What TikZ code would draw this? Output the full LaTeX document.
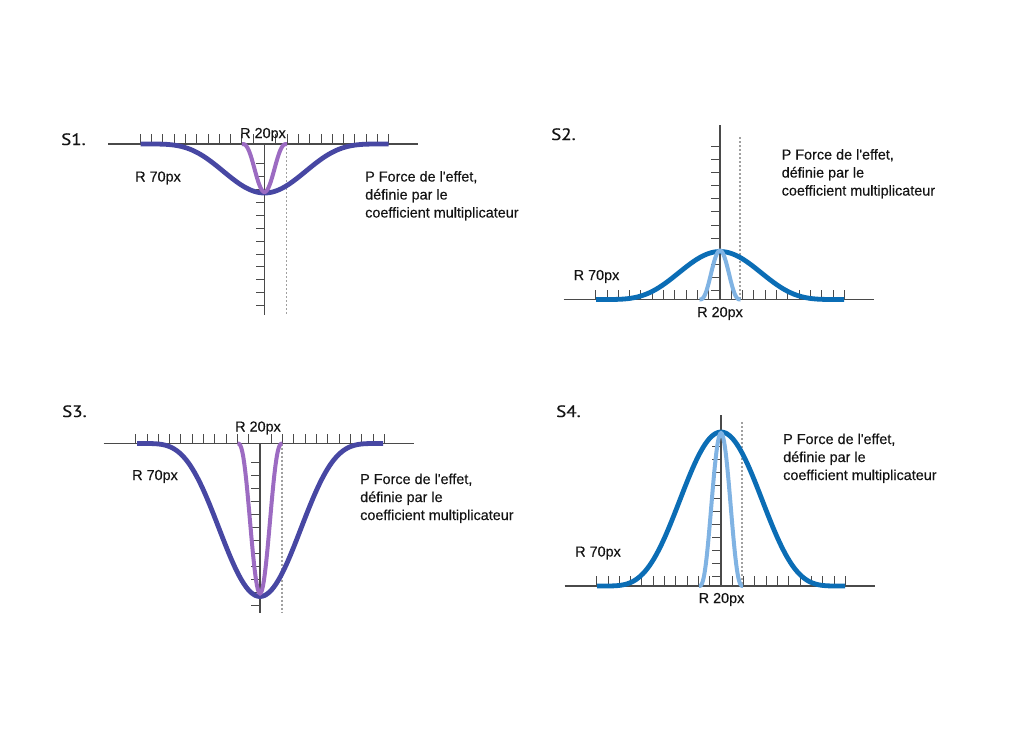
\documentclass[tikz,border=0pt]{standalone}
\usepackage{fontspec}
\setmainfont{Liberation Sans}[Ligatures=TeXOff, FakeBold=0.3]
\newfontfamily\labfont{PT Sans}[FakeStretch=1.15, FakeBold=0.4]
\definecolor{indigo}{HTML}{4747A3}
\definecolor{violet}{HTML}{9C6BC2}
\definecolor{deepblue}{HTML}{0B6DB5}
\definecolor{paleblue}{HTML}{80B3E3}
\definecolor{axisgray}{HTML}{4A4A4A}
\definecolor{guidegray}{HTML}{A0A0A0}
\definecolor{txt}{HTML}{141414}
\tikzset{
  axisline/.style={draw=axisgray, line width=1.2pt},
  tickline/.style={draw=axisgray, line width=0.9pt},
  guide/.style={draw=guidegray, line width=1.1pt, dash pattern=on 2pt off 2pt},
  widecurve/.style={line width=4.8pt},
  narrowcurve/.style={line width=4pt},
  lbl/.style={inner sep=0pt, anchor=base west, font=\fontsize{14.4}{18}\selectfont, text=txt},
  slbl/.style={inner sep=0pt, anchor=base west, font=\labfont\fontsize{16.5}{18}\selectfont, text=txt}
}
\begin{document}
\begin{tikzpicture}[x=1pt,y=-1pt]
\useasboundingbox[fill=white] (0,0) rectangle (1024,736);

% ================= S1 =================
\def\cx{264.5}\def\cy{144}
\draw[axisline] (\cx-156.5,\cy) -- (\cx+153.5,\cy);
\draw[axisline] (\cx,\cy) -- (\cx,315);
\foreach \k in {1,...,11}{
  \draw[tickline] (\cx+11.3*\k,\cy) -- ++(0,-10);
  \draw[tickline] (\cx-11.3*\k,\cy) -- ++(0,-10);}
\foreach \k in {0,...,11}{
  \draw[tickline] (\cx,\cy+19.3+12.95*\k) -- ++(-9,0);}
\draw[guide] (\cx+22,\cy) -- (\cx+22,315);
\draw[widecurve, draw=indigo] plot[domain=-124:124, samples=125, smooth]
  ({\cx+\x}, {\cy+49*(max(0,1-(\x/124)^2))^5});
\draw[narrowcurve, draw=violet] plot[domain=-22.5:22.5, samples=61, smooth]
  ({\cx+\x}, {\cy+48*(max(0,1-(\x/22.5)^2))^3});
\node[slbl] (s1) at (61,145) {S1.};
\node[lbl] (s1r20) at (240,138) {R 20px};
\node[lbl] (s1r70) at (135,181.5) {R 70px};
\node[lbl] (s1pa) at (365,181.5) {P Force de l'effet,};
\node[lbl] (s1pb) at (365,199.5) {définie par le};
\node[lbl] (s1pc) at (365,217.5) {coefficient multiplicateur};

% ================= S2 =================
\def\cx{720}\def\cy{299.5}
\draw[axisline] (\cx-156.5,\cy) -- (\cx+153.5,\cy);
\draw[axisline] (\cx,125) -- (\cx,\cy);
\foreach \k in {1,...,11}{
  \draw[tickline] (\cx+11.3*\k,\cy) -- ++(0,-10);
  \draw[tickline] (\cx-11.3*\k,\cy) -- ++(0,-10);}
\foreach \k in {0,...,11}{
  \draw[tickline] (\cx,\cy-9.3-13.05*\k) -- ++(-9,0);}
\draw[guide] (\cx+20,137) -- (\cx+20,\cy);
\draw[widecurve, draw=deepblue] plot[domain=-124:124, samples=125, smooth]
  ({\cx+\x}, {\cy-48*(max(0,1-(\x/124)^2))^5});
\draw[narrowcurve, draw=paleblue] plot[domain=-20.5:20.5, samples=61, smooth]
  ({\cx+\x}, {\cy-49*(max(0,1-(\x/20.5)^2))^3});
\node[slbl] (s2) at (551,140) {S2.};
\node[lbl] (s2r70) at (573.5,280) {R 70px};
\node[lbl] (s2r20) at (697,317) {R 20px};
\node[lbl] (s2pa) at (781.5,159.5) {P Force de l'effet,};
\node[lbl] (s2pb) at (781.5,177.5) {définie par le};
\node[lbl] (s2pc) at (781.5,195.5) {coefficient multiplicateur};

% ================= S3 =================
\def\cx{260}\def\cy{443.5}
\draw[axisline] (\cx-156.5,\cy) -- (\cx+153.5,\cy);
\draw[axisline] (\cx,\cy) -- (\cx,613);
\foreach \k in {1,...,11}{
  \draw[tickline] (\cx+11.3*\k,\cy) -- ++(0,-10);
  \draw[tickline] (\cx-11.3*\k,\cy) -- ++(0,-10);}
\foreach \k in {0,...,11}{
  \draw[tickline] (\cx,\cy+19.3+12.95*\k) -- ++(-9,0);}
\draw[guide] (\cx+22,\cy) -- (\cx+22,612);
\draw[widecurve, draw=indigo] plot[domain=-123:123, samples=125, smooth]
  ({\cx+\x}, {\cy+153*(max(0,1-(\x/123)^2))^5});
\draw[narrowcurve, draw=violet] plot[domain=-22.5:22.5, samples=61, smooth]
  ({\cx+\x}, {\cy+150*(max(0,1-(\x/22.5)^2))^3});
\node[slbl] (s3) at (62,417) {S3.};
\node[lbl] (s3r20) at (235,431.5) {R 20px};
\node[lbl] (s3r70) at (132,480) {R 70px};
\node[lbl] (s3pa) at (360,484) {P Force de l'effet,};
\node[lbl] (s3pb) at (360,502) {définie par le};
\node[lbl] (s3pc) at (360,520) {coefficient multiplicateur};

% ================= S4 =================
\def\cx{721}\def\cy{586}
\draw[axisline] (\cx-156.5,\cy) -- (\cx+153.5,\cy);
\draw[axisline] (\cx,415) -- (\cx,\cy);
\foreach \k in {1,...,11}{
  \draw[tickline] (\cx+11.3*\k,\cy) -- ++(0,-10);
  \draw[tickline] (\cx-11.3*\k,\cy) -- ++(0,-10);}
\foreach \k in {0,...,11}{
  \draw[tickline] (\cx,\cy-9.3-13.05*\k) -- ++(-9,0);}
\draw[guide] (\cx+21,422) -- (\cx+21,\cy);
\draw[widecurve, draw=deepblue] plot[domain=-124:124, samples=125, smooth]
  ({\cx+\x}, {\cy-154*(max(0,1-(\x/124)^2))^5});
\draw[narrowcurve, draw=paleblue] plot[domain=-22:22, samples=61, smooth]
  ({\cx+\x}, {\cy-153*(max(0,1-(\x/22)^2))^3});
\node[slbl] (s4) at (556,417) {S4.};
\node[lbl] (s4r70) at (575,556.5) {R 70px};
\node[lbl] (s4r20) at (698.5,603) {R 20px};
\node[lbl] (s4pa) at (783,444) {P Force de l'effet,};
\node[lbl] (s4pb) at (783,462) {définie par le};
\node[lbl] (s4pc) at (783,480) {coefficient multiplicateur};
\end{tikzpicture}
\end{document}
